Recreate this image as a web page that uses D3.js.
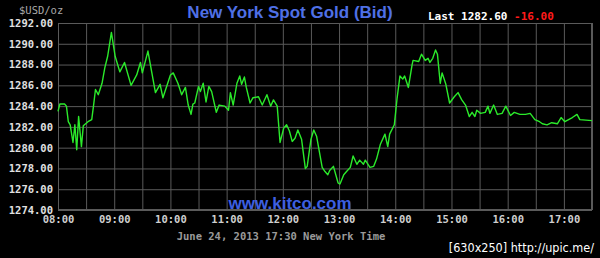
<!DOCTYPE html>
<html>
<head>
  <meta charset="UTF-8">
  <title>New York Spot Gold (Bid)</title>
  <script src="https://d3js.org/d3.v7.min.js"></script>
  <style>
    body {
      margin: 0;
      padding: 0;
      background-color: #000;
    }
    svg {
      display: block;
    }
    .grid line {
      stroke: #5a5a5a;
      stroke-width: 1;
    }
    .grid path {
      display: none;
    }
    .axis path, .axis line {
      display: none;
    }
    .axis text {
      font-family: 'DejaVu Sans Mono', monospace;
      font-weight: bold;
      font-size: 10.5px;
      fill: #e0e0e0;
    }
    .mono {
      font-family: 'DejaVu Sans Mono', monospace;
    }
  </style>
</head>
<body>
  <svg id="chart"></svg>
  <script>
    // time of day and bid price
    const times = [
      "08:00", "08:02", "08:07", "08:09", "08:11", "08:13", "08:16", "08:18", "08:20", "08:22",
      "08:25", "08:27", "08:32", "08:36", "08:38", "08:40", "08:43", "08:47", "08:50", "08:53",
      "08:57", "09:01", "09:06", "09:11", "09:18", "09:24", "09:28", "09:30", "09:36", "09:40",
      "09:44", "09:49", "09:52", "10:00", "10:03", "10:08", "10:12", "10:16", "10:19", "10:22",
      "10:24", "10:26", "10:30", "10:32", "10:35", "10:38", "10:41", "10:44", "10:49", "10:52",
      "10:58", "11:02", "11:04", "11:07", "11:11", "11:14", "11:16", "11:19", "11:21", "11:25",
      "11:28", "11:34", "11:38", "11:43", "11:47", "11:50", "11:54", "11:57", "12:01", "12:04",
      "12:07", "12:10", "12:13", "12:16", "12:20", "12:24", "12:26", "12:30", "12:33", "12:36",
      "12:42", "12:45", "12:48", "12:50", "12:54", "12:59", "13:01", "13:05", "13:08", "13:12",
      "13:15", "13:19", "13:22", "13:26", "13:28", "13:33", "13:37", "13:40", "13:44", "13:49",
      "13:52", "13:54", "13:59", "14:02", "14:05", "14:08", "14:10", "14:14", "14:18", "14:19",
      "14:25", "14:28", "14:32", "14:35", "14:37", "14:40", "14:43", "14:45", "14:48", "14:50",
      "14:54", "14:58", "15:03", "15:07", "15:11", "15:15", "15:19", "15:22", "15:25", "15:27",
      "15:31", "15:36", "15:39", "15:41", "15:45", "15:49", "15:54", "15:58", "16:03", "16:07",
      "16:13", "16:19", "16:24", "16:29", "16:34", "16:37", "16:42", "16:47", "16:53", "16:57",
      "17:01", "17:05", "17:09", "17:14", "17:17", "17:30"
    ];
    const prices = [
      1283.5, 1284.2, 1284.2, 1284.0, 1282.5, 1282.2, 1280.5, 1282.2, 1279.8, 1283.0,
      1280.1, 1282.1, 1282.5, 1282.7, 1284.1, 1285.6, 1285.1, 1286.2, 1287.7, 1288.8,
      1291.1, 1288.8, 1287.3, 1288.2, 1286.0, 1287.0, 1288.2, 1287.2, 1289.3, 1287.3,
      1285.3, 1286.1, 1284.8, 1287.0, 1287.2, 1286.2, 1285.1, 1285.8, 1284.1, 1283.2,
      1284.2, 1284.3, 1285.9, 1285.4, 1286.2, 1284.4, 1285.9, 1285.4, 1283.4, 1284.1,
      1284.0, 1283.6, 1285.3, 1284.1, 1286.2, 1286.9, 1286.1, 1286.8, 1285.8, 1284.3,
      1284.8, 1284.9, 1284.1, 1285.1, 1284.0, 1284.6, 1284.0, 1280.5, 1281.9, 1282.2,
      1281.6, 1280.6, 1280.9, 1281.7, 1280.8, 1278.0, 1278.2, 1280.8, 1281.7, 1281.1,
      1278.1, 1277.7, 1277.4, 1277.8, 1278.2, 1276.6, 1276.5, 1277.4, 1277.7, 1278.1,
      1279.2, 1278.4, 1278.8, 1278.4, 1278.8, 1278.1, 1278.2, 1278.9, 1280.3, 1281.3,
      1280.1, 1281.3, 1282.2, 1284.8, 1286.9, 1286.6, 1286.9, 1285.8, 1288.0, 1288.4,
      1288.3, 1289.0, 1288.4, 1288.6, 1288.2, 1288.6, 1289.4, 1289.0, 1286.2, 1287.2,
      1286.1, 1284.3, 1284.9, 1285.3, 1284.6, 1284.1, 1283.0, 1283.4, 1283.0, 1283.6,
      1283.3, 1283.4, 1284.0, 1283.3, 1284.1, 1283.2, 1283.3, 1284.0, 1283.1, 1283.4,
      1283.2, 1283.2, 1283.3, 1282.7, 1282.5, 1282.3, 1282.2, 1282.4, 1282.3, 1282.9,
      1282.5, 1282.7, 1282.9, 1283.2, 1282.7, 1282.6
    ];
    const priceTicks = [1274, 1276, 1278, 1280, 1282, 1284, 1286, 1288, 1290, 1292];
    const hourTicks = ["08:00", "09:00", "10:00", "11:00", "12:00", "13:00", "14:00", "15:00", "16:00", "17:00"];
    const lastPrice = "1282.60";
    const change = "-16.00";

    const W = 600, H = 258;
    const l = 58, r = 8, t = 23, b = 48;

    const parse = d3.timeParse("%H:%M");
    const data = times.map(function(s, i) { return { time: parse(s), price: prices[i] }; });

    const x = d3.scaleTime()
      .domain([parse("08:00"), parse("17:30")])
      .range([l, W - r]);
    const y = d3.scaleLinear()
      .domain([1274, 1292])
      .range([H - b, t]);

    const svg = d3.select("#chart")
      .attr("width", W)
      .attr("height", H);

    svg.append("rect")
      .attr("width", W).attr("height", H)
      .attr("fill", "#000");

    // horizontal grid
    svg.append("g")
      .attr("class", "grid")
      .attr("transform", `translate(${l},0)`)
      .call(d3.axisLeft(y).tickValues(priceTicks).tickSize(-(W - r - l)).tickFormat(""));

    // vertical grid every half hour
    svg.append("g")
      .attr("class", "grid")
      .attr("transform", `translate(0,${t})`)
      .call(d3.axisBottom(x).ticks(d3.timeMinute.every(30)).tickSize(H - b - t).tickFormat(""));

    svg.append("rect")
      .attr("x", l + 0.5).attr("y", t + 0.5)
      .attr("width", W - r - l - 1).attr("height", H - b - t - 1)
      .attr("fill", "none")
      .attr("stroke", "#5a5a5a");

    svg.append("g")
      .attr("class", "axis")
      .attr("transform", `translate(${l},0)`)
      .call(d3.axisLeft(y).tickValues(priceTicks).tickSize(0).tickPadding(5).tickFormat(d3.format(".2f")));

    svg.append("g")
      .attr("class", "axis")
      .attr("transform", `translate(0,${H - b})`)
      .call(d3.axisBottom(x).tickValues(hourTicks.map(parse)).tickSize(0).tickPadding(6).tickFormat(d3.timeFormat("%H:%M")))
      .selectAll("text").style("fill", "#cfcfcf");

    const line = d3.line()
      .x(function(d) { return x(d.time); })
      .y(function(d) { return y(d.price); });

    svg.append("path")
      .datum(data)
      .attr("fill", "none")
      .attr("stroke", "#2bea2b")
      .attr("stroke-width", 1.4)
      .attr("stroke-linejoin", "round")
      .attr("d", line);

    svg.append("text")
      .attr("class", "mono")
      .attr("x", 19).attr("y", 14)
      .style("font-size", "10.5px")
      .style("fill", "#a8a8a8")
      .text("$USD/oz");

    svg.append("text")
      .attr("x", 290).attr("y", 18)
      .attr("text-anchor", "middle")
      .style("font-family", "'Liberation Sans', Arial, sans-serif")
      .style("font-weight", "bold")
      .style("font-size", "17px")
      .style("fill", "#4f70e6")
      .text("New York Spot Gold (Bid)");

    const last = svg.append("text")
      .attr("class", "mono")
      .attr("x", 428).attr("y", 20)
      .style("font-size", "11px")
      .style("font-weight", "bold")
      .style("fill", "#fff");
    last.append("tspan").text("Last " + lastPrice + " ");
    last.append("tspan").style("fill", "#ff1a1a").text(change);

    svg.append("text")
      .attr("x", 290).attr("y", 209)
      .attr("text-anchor", "middle")
      .style("font-family", "'Liberation Sans', Arial, sans-serif")
      .style("font-weight", "bold")
      .style("font-size", "17px")
      .style("fill", "#3d5fe0")
      .text("www.kitco.com");

    svg.append("text")
      .attr("class", "mono")
      .attr("x", 281).attr("y", 240)
      .attr("text-anchor", "middle")
      .style("font-size", "10.5px")
      .style("font-weight", "bold")
      .style("fill", "#9a9a9a")
      .text("June 24, 2013 17:30 New York Time");

    svg.append("text")
      .attr("x", 594).attr("y", 252)
      .attr("text-anchor", "end")
      .style("font-family", "'Liberation Sans Narrow', 'DejaVu Sans Condensed', sans-serif")
      .style("font-size", "12.5px")
      .style("fill", "#fff")
      .text("[630x250] http://upic.me/");
  </script>
</body>
</html>
